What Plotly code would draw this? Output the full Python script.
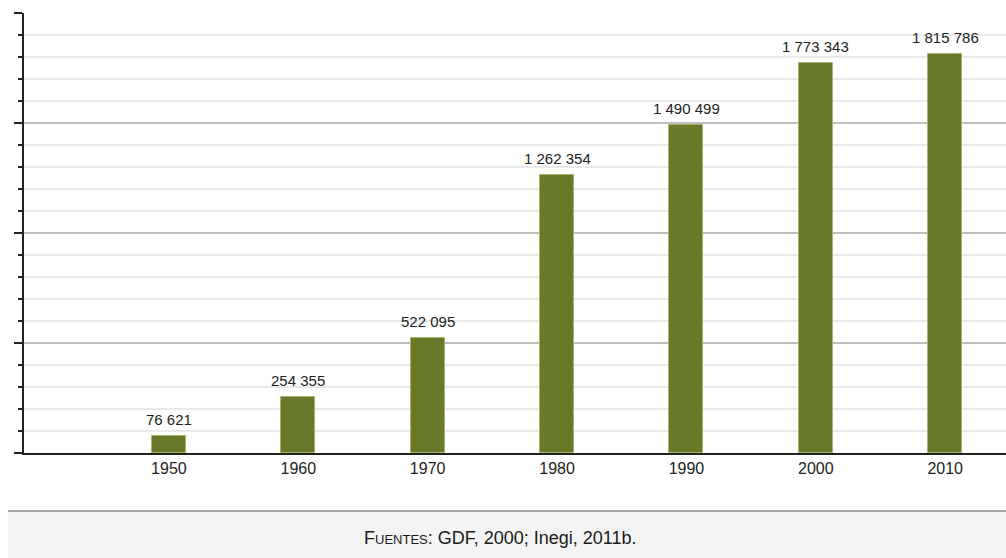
import plotly.graph_objects as go

years = ["1950", "1960", "1970", "1980", "1990", "2000", "2010"]
population = [76621, 254355, 522095, 1262354, 1490499, 1773343, 1815786]
source_text = "GDF, 2000; Inegi, 2011b."

labels = [f"{v:,}".replace(",", " ") for v in population]

FONT = "Liberation Sans, Arial, sans-serif"

fig = go.Figure()
fig.add_trace(go.Bar(
    x=years, y=population,
    marker=dict(color="#687a28", line=dict(color="#a4b46e", width=1)),
    width=0.263, cliponaxis=False,
))

for i, (v, lab) in enumerate(zip(population, labels)):
    fig.add_annotation(x=i, y=v, xref="x", yref="y", text=lab, showarrow=False,
                       xanchor="center", yanchor="bottom", yshift=6,
                       font=dict(family=FONT, size=15, color="#222"))

fig.update_layout(
    width=1006, height=558,
    margin=dict(l=24, r=0, t=13, b=105),
    paper_bgcolor="white", plot_bgcolor="white",
    showlegend=False,
    bargap=0,
    xaxis=dict(type="category", range=[-1.12, 6.47], showline=True, linecolor="#222",
               linewidth=2, ticks="", showgrid=False, zeroline=False,
               tickfont=dict(family=FONT, size=16, color="#222")),
    yaxis=dict(range=[0, 2000000], dtick=500000, showline=True, linecolor="#222", linewidth=2,
               ticks="outside", ticklen=8, tickwidth=2, tickcolor="#222",
               showticklabels=False, showgrid=True, gridcolor="#bdbdbd", gridwidth=2,
               zeroline=False,
               minor=dict(dtick=100000, ticks="outside", ticklen=4, tickwidth=2, tickcolor="#222",
                          showgrid=True, gridcolor="#e9e9e9", gridwidth=2)),
)

# footer band
ph = 440.0
pw = 982.0
fig.add_shape(type="rect", xref="paper", yref="paper",
              x0=(8 - 24) / pw, x1=1.0, y0=(453 - 558) / ph, y1=(453 - 511) / ph,
              fillcolor="#f4f4f4", line=dict(width=0), layer="below")
fig.add_shape(type="line", xref="paper", yref="paper",
              x0=(8 - 24) / pw, x1=1.0, y0=(453 - 511) / ph, y1=(453 - 511) / ph,
              line=dict(color="#a8a8a8", width=2))
fig.add_annotation(xref="paper", yref="paper", x=(500 - 24) / pw, y=(453 - 538) / ph,
                   xanchor="center", yanchor="middle", showarrow=False,
                   text="F<span style='font-size:13px'>UENTES</span>: " + source_text,
                   font=dict(family=FONT, size=18, color="#1a1a1a"))

fig.write_html("out.html")
